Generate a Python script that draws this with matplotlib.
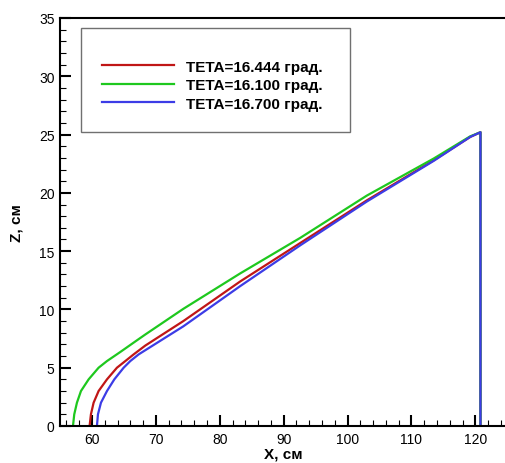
import matplotlib
matplotlib.use('Agg')
import matplotlib.pyplot as plt
from matplotlib.patches import Rectangle
from matplotlib.ticker import MultipleLocator

plt.rcParams['font.family'] = ['Liberation Sans', 'DejaVu Sans']

# Дані кривих (X, см ; Z, см)
x_red = [59.63, 59.84, 60.26, 61.04, 62.35, 63.91, 65.22, 66.52, 68.35,
         74.3, 83.2, 92.6, 103.0, 113.5, 119.2, 120.8, 120.8]
z_red = [0.0, 1.0, 2.0, 3.0, 4.0, 5.0, 5.57, 6.14, 6.9,
         9.0, 12.4, 15.7, 19.35, 22.8, 24.8, 25.2, 0.0]

x_green = [57.03, 57.23, 57.65, 58.28, 59.48, 61.04, 62.35, 64.44, 66.78, 68.35,
           74.3, 83.2, 92.6, 103.0, 113.5, 119.2, 120.8, 120.8]
z_green = [0.0, 1.0, 2.0, 3.0, 4.0, 5.0, 5.57, 6.35, 7.25, 7.85,
           10.05, 13.09, 16.14, 19.76, 22.95, 24.85, 25.2, 0.0]

x_blue = [60.78, 60.94, 61.41, 62.35, 63.5, 64.96, 66.0, 67.3,
          74.3, 83.2, 92.6, 103.0, 113.5, 119.2, 120.8, 120.8]
z_blue = [0.0, 1.0, 2.0, 3.0, 4.0, 5.0, 5.57, 6.14,
          8.55, 12.0, 15.5, 19.25, 22.75, 24.8, 25.2, 0.0]

labels = ['TETA=16.444 град.', 'TETA=16.100 град.', 'TETA=16.700 град.']
colors = ['#c01616', '#1ec81e', '#3c3ce6']

fig = plt.figure(figsize=(5.05, 4.64), dpi=100)
ax = fig.add_axes([60 / 505, 37 / 464, 447.3 / 505, 408 / 464])

ax.plot(x_red, z_red, color=colors[0], lw=1.6, label=labels[0])
ax.plot(x_green, z_green, color=colors[1], lw=1.6, label=labels[1])
ax.plot(x_blue, z_blue, color=colors[2], lw=1.6, label=labels[2])

ax.set_xlim(55, 125)
ax.set_ylim(0, 35)
ax.xaxis.set_major_locator(MultipleLocator(10))
ax.xaxis.set_minor_locator(MultipleLocator(2))
ax.yaxis.set_major_locator(MultipleLocator(5))
ax.yaxis.set_minor_locator(MultipleLocator(1))

for s in ['left', 'bottom', 'top']:
    ax.spines[s].set_linewidth(1.5)
ax.spines['right'].set_visible(False)

ax.tick_params(which='major', direction='in', length=8, width=1.5, labelsize=10, pad=4)
ax.tick_params(which='minor', direction='in', length=4, width=0.8)
ax.tick_params(top=False, right=False)

ax.set_xlabel('X, см', fontsize=11, fontweight='bold', labelpad=1)
ax.set_ylabel('Z, см', fontsize=11, fontweight='bold', labelpad=11)

# Рамка легенди
ax.add_patch(Rectangle((0.0463, 0.7206), 0.602, 0.255, transform=ax.transAxes,
                       fill=True, facecolor='white', edgecolor='#707070', lw=1, zorder=3))
leg = ax.legend(loc='upper left', bbox_to_anchor=(0.095, 0.898), frameon=False,
                borderpad=0, borderaxespad=0, handlelength=4.7, handletextpad=0.75,
                labelspacing=0.30, prop={'size': 11, 'weight': 'bold'})
leg.set_zorder(4)

fig.savefig('out.png', dpi=100)
